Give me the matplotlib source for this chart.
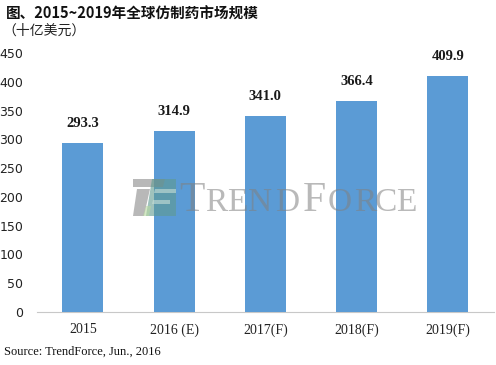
import matplotlib
matplotlib.use("Agg")
import matplotlib.pyplot as plt
from matplotlib.patches import Polygon

plt.rcParams['font.family'] = ['DejaVu Sans', 'Noto Sans CJK SC']

# data
years = ['2015', '2016 (E)', '2017(F)', '2018(F)', '2019(F)']
market = [293.3, 314.9, 341.0, 366.4, 409.9]
yticks = [0, 50, 100, 150, 200, 250, 300, 350, 400, 450]

fig = plt.figure(figsize=(4.96, 3.65), dpi=100)
ax = fig.add_axes([0.075, 0.145, 0.92, 0.71])

x = range(len(years))
bars = ax.bar(x, market, width=0.45, color='#5B9BD5', zorder=3)
for b, v in zip(bars, market):
    ax.text(b.get_x() + b.get_width() / 2, v + 22, f'{v:.1f}', ha='center', va='bottom',
            fontsize=10.5, fontweight='bold', family='Liberation Serif', color='#1a1a1a')

ax.set_xlim(-0.5, len(years) - 0.5)
ax.set_ylim(0, 450)
ax.set_yticks(yticks)
ax.set_yticklabels([str(t) for t in yticks], fontsize=9, color='#222222')
ax.set_xticks(list(x))
ax.set_xticklabels(years, fontsize=10, family='Liberation Serif', color='#222222')
for s in ['top', 'right', 'left']:
    ax.spines[s].set_visible(False)
ax.spines['bottom'].set_color('#c8c8c8')
ax.tick_params(length=0, pad=8)
ax.tick_params(axis='y', pad=10)

# watermark (TrendForce logo), letter by letter in small caps
wm_col = '#808080'
W, H = 496.0, 365.0
base = 1 - 211 / H
letters = [('T', 179, 30), ('R', 205, 24), ('E', 227, 24), ('N', 248, 24), ('D', 275, 24),
           ('F', 303, 30), ('O', 328, 24), ('R', 354, 24), ('C', 375, 24), ('E', 396, 24)]
for ch, px, fs in letters:
    fig.text(px / W, base, ch, fontsize=fs, family='Liberation Serif', color=wm_col,
             alpha=0.55, va='baseline', zorder=6)


def fpoly(pts):
    return [(p[0] / W, 1 - p[1] / H) for p in pts]


logo = [
    ([(133, 179), (165, 179), (163, 187), (133, 187)], '#8a8a8a'),
    ([(137, 189), (150, 189), (144, 216), (133, 216)], '#8a8a8a'),
    ([(152, 179), (176, 179), (176, 216), (146, 216)], '#5f9a90'),
    ([(155, 189), (176, 189), (176, 193), (154, 193)], '#c8e0d8'),
    ([(153, 200), (170, 200), (170, 204), (152, 204)], '#c8e0d8'),
    ([(146, 206), (151, 206), (149, 216), (143, 216)], '#b8d8a0'),
]
for pts, c in logo:
    fig.patches.append(Polygon(fpoly(pts), closed=True, transform=fig.transFigure,
                               facecolor=c, alpha=0.6, edgecolor='none', zorder=5))

fig.text(0.012, 0.962, '图、2015~2019年全球仿制药市场规模', fontsize=10.5, fontweight='bold',
         family=['Noto Sans CJK SC', 'DejaVu Sans'], color='#111111', va='center')
fig.text(0.005, 0.915, '（十亿美元）', fontsize=10,
         family=['Noto Sans CJK SC', 'DejaVu Sans'], color='#222222', va='center')
fig.text(0.008, 0.035, 'Source: TrendForce, Jun., 2016', fontsize=9,
         family='Liberation Serif', color='#111111', va='center')

fig.savefig('out.png', dpi=100)
